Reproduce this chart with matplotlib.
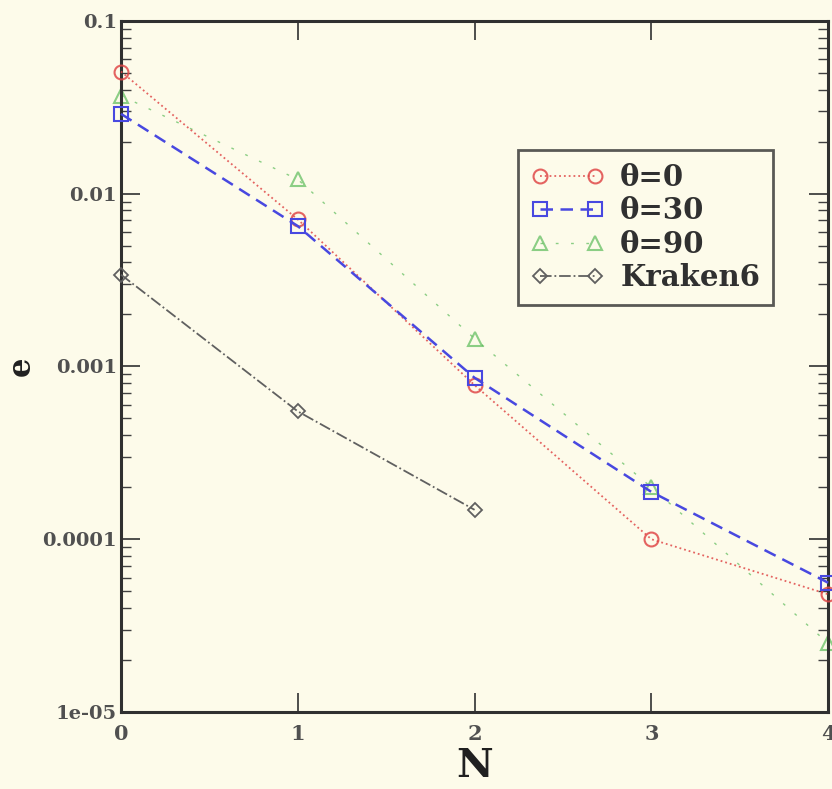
import numpy as np
import matplotlib
matplotlib.use('Agg')
import matplotlib.pyplot as plt
from matplotlib.ticker import LogLocator, FixedLocator, FixedFormatter

N = [0, 1, 2, 3, 4]
err_theta0 = [0.051, 0.0071, 0.00078, 0.0001, 0.000048]
err_theta30 = [0.029, 0.0065, 0.00086, 0.000188, 0.000056]
err_theta90 = [0.037, 0.0121, 0.00145, 0.0002, 0.000025]
N_kraken = [0, 1, 2]
err_kraken = [0.0034, 0.00055, 0.000148]

ytick_vals = [1e-5, 1e-4, 1e-3, 1e-2, 1e-1]
ytick_labels = ['1e-05', '0.0001', '0.001', '0.01', '0.1']

bg = '#fdfbea'
plt.rcParams['font.family'] = ['DejaVu Serif']
plt.rcParams['font.weight'] = 'bold'
plt.rcParams['axes.labelweight'] = 'bold'

fig = plt.figure(figsize=(8.32, 7.89), dpi=100, facecolor=bg)
ax = fig.add_axes([0.1454, 0.0976, 0.850, 0.8758], facecolor=bg)

ax.plot(N, err_theta0, color='#e04848', linestyle=':', linewidth=1.3, alpha=0.85,
        marker='o', markersize=10, markerfacecolor='none', markeredgewidth=1.5,
        label='θ=0', clip_on=False, zorder=3)
ax.plot(N, err_theta30, color='#4848e0', linestyle='--', linewidth=1.8,
        dashes=(5, 3), marker='s', markersize=10, markerfacecolor='none',
        markeredgewidth=1.5, label='θ=30', clip_on=False, zorder=4)
ax.plot(N, err_theta90, color='#40b040', linestyle='--', linewidth=1.0,
        dashes=(2, 9), alpha=0.6, marker='^', markersize=10, markerfacecolor='none',
        markeredgewidth=1.5, label='θ=90', clip_on=False, zorder=2)
ax.plot(N_kraken, err_kraken, color='#606060', linestyle='-.', linewidth=1.3,
        marker='D', markersize=7, markerfacecolor='none', markeredgewidth=1.3,
        label='Kraken6', clip_on=False, zorder=3)

ax.set_yscale('log')
ax.set_xlim(0, 4)
ax.set_ylim(1e-5, 0.1)
ax.set_xticks(N)
ax.yaxis.set_major_locator(FixedLocator(ytick_vals))
ax.yaxis.set_major_formatter(FixedFormatter(ytick_labels))
ax.yaxis.set_minor_locator(LogLocator(base=10, subs=np.arange(2, 10)))
ax.tick_params(which='both', direction='in', colors='#404040', labelcolor='#505050',
               top=True, right=True)
ax.tick_params(which='major', length=14, width=1.3, labelsize=14, pad=3)
ax.tick_params(which='minor', length=7, width=1.0)
ax.tick_params(axis='x', which='major', labelsize=15, pad=9)
for s in ax.spines.values():
    s.set_linewidth(2.2)
    s.set_color('#303030')

ax.set_xlabel('N', fontsize=29, labelpad=2, color='#202020')
ax.set_ylabel('e', fontsize=22, labelpad=4, color='#202020')

leg = ax.legend(loc='upper left', bbox_to_anchor=(0.5615, 0.8133), fontsize=21,
                numpoints=2, frameon=True, fancybox=False, handlelength=2.5,
                handletextpad=0.55, borderpad=0.45, labelspacing=0.15,
                borderaxespad=0)
leg.get_frame().set_edgecolor('#303030')
leg.get_frame().set_linewidth(2)
leg.get_frame().set_facecolor(bg)
for t in leg.get_texts():
    t.set_color('#303030')

fig.savefig('out.png', dpi=100, facecolor=bg)
